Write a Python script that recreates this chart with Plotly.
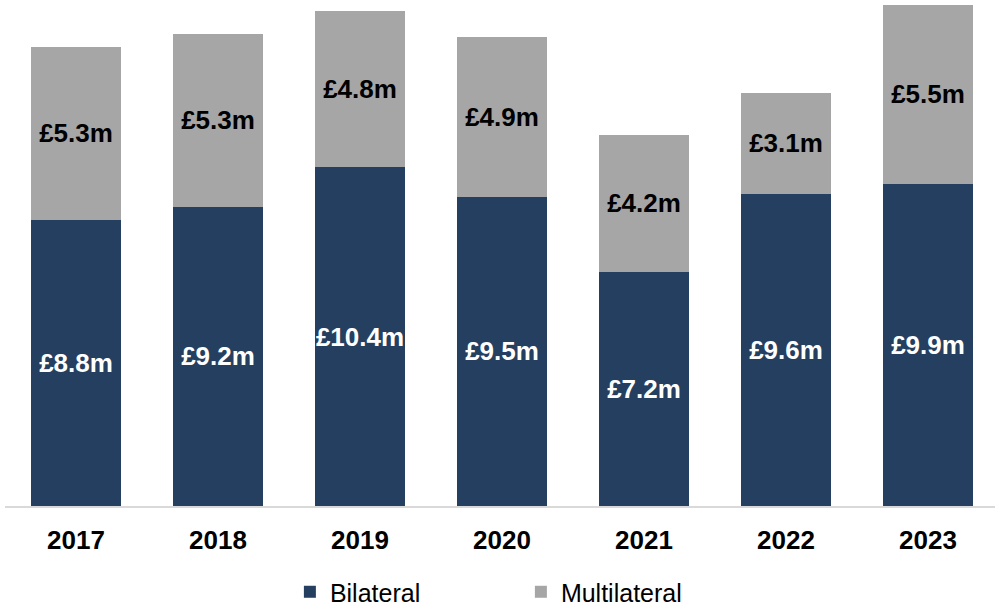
import plotly.graph_objects as go

years = ["2017", "2018", "2019", "2020", "2021", "2022", "2023"]
bilateral = [8.8, 9.2, 10.4, 9.5, 7.2, 9.6, 9.9]
multilateral = [5.3, 5.3, 4.8, 4.9, 4.2, 3.1, 5.5]

FONT = "Liberation Sans, Arial, sans-serif"
NAVY = "#243F60"
GREY = "#A6A6A6"


def labels(vals):
    return ["<b>£%.1fm</b>" % v for v in vals]


fig = go.Figure()

fig.add_trace(go.Bar(x=years, y=bilateral, name="Bilateral",
                     marker=dict(color=NAVY, line=dict(width=0)),
                     text=labels(bilateral), textposition="inside",
                     insidetextanchor="middle", textangle=0,
                     constraintext="none",
                     textfont=dict(family=FONT, size=26, color="white")))

fig.add_trace(go.Bar(x=years, y=multilateral, name="Multilateral",
                     marker=dict(color=GREY, line=dict(width=0)),
                     text=labels(multilateral), textposition="inside",
                     insidetextanchor="middle", textangle=0,
                     constraintext="none",
                     textfont=dict(family=FONT, size=26, color="black")))

fig.update_xaxes(showline=True, linecolor="#D9D9D9", linewidth=2,
                 ticks="", tickfont=dict(family=FONT, size=26, color="black"),
                 tickprefix="<b>", ticksuffix="</b>", ticklabelstandoff=10)
fig.update_yaxes(range=[0, 15.546], visible=False, showgrid=False)

fig.update_layout(barmode="stack", bargap=0.373,
                  width=999, height=606,
                  margin=dict(l=4.5, r=0, t=0, b=100, autoexpand=False),
                  plot_bgcolor="white", paper_bgcolor="white",
                  font=dict(family=FONT, size=25, color="black"),
                  uniformtext=dict(minsize=26, mode="show"),
                  legend=dict(orientation="h", x=0.519, xanchor="center",
                              y=-0.17, yanchor="middle",
                              font=dict(family=FONT, size=25, color="black"),
                              itemwidth=30, entrywidth=186,
                              traceorder="normal"))

# drop the default page margin so the figure sits at the window's corner
fig.write_html("out.html", config=dict(displayModeBar=False),
               post_script="document.body.style.margin='0';"
                           "document.body.style.overflow='hidden';")
